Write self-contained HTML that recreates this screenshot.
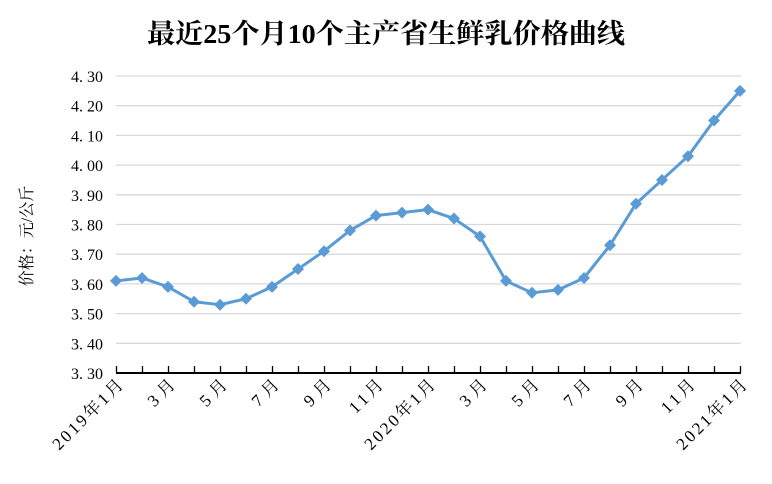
<!DOCTYPE html>
<html><head><meta charset="utf-8"><style>
body{margin:0;background:#fff}
svg text{font-family:"Liberation Serif","Noto Serif CJK SC",serif}
</style></head><body>
<svg width="772" height="479" xmlns="http://www.w3.org/2000/svg">
<rect width="772" height="479" fill="#fff"/>
<text x="386" y="43" text-anchor="middle" font-size="27" font-weight="bold" fill="#000" textLength="478" lengthAdjust="spacingAndGlyphs">最近25个月10个主产省生鲜乳价格曲线</text>
<g id="grid" stroke="#d9d9d9" stroke-width="1.3"></g>
<g id="yl" font-size="16" fill="#000" text-anchor="end"></g>
<line x1="116" y1="373" x2="741" y2="373" stroke="#000" stroke-width="2"/>
<g id="ticks" stroke="#000" stroke-width="1.3"></g>
<g id="xl" font-size="17" fill="#000"></g>
<text transform="translate(32,236) rotate(-90)" text-anchor="middle" font-size="16" fill="#000">价格：元/公斤</text>
<polyline id="ln" fill="none" stroke="#5b9bd5" stroke-width="3" stroke-linejoin="round"/>
<g id="mk" fill="#5b9bd5"></g>
</svg>
<script>
const ns="http://www.w3.org/2000/svg";
function el(t,a,p,txt){const e=document.createElementNS(ns,t);for(const k in a)e.setAttribute(k,a[k]);if(txt)e.textContent=txt;document.getElementById(p).appendChild(e);return e;}
const Y=v=>373-(v-3.3)*297;
for(let i=0;i<=10;i++){const v=3.3+i*0.1,y=Y(v);
 if(i>0)el('line',{x1:116,x2:741,y1:y,y2:y},'grid');
 el('text',{x:103,y:y+6},'yl',v.toFixed(2).replace('.','. '));}
const d=[3.61,3.62,3.59,3.54,3.53,3.55,3.59,3.65,3.71,3.78,3.83,3.84,3.85,3.82,3.76,3.61,3.57,3.58,3.62,3.73,3.87,3.95,4.03,4.15,4.25];
const labs={0:'2019年1月',2:'3月',4:'5月',6:'7月',8:'9月',10:'11月',12:'2020年1月',14:'3月',16:'5月',18:'7月',20:'9月',22:'11月',24:'2021年1月'};
let pts=[];
for(let i=0;i<25;i++){const x=116+i*26,y=Y(d[i]);pts.push(x+','+y);
 el('line',{x1:x+0.5,x2:x+0.5,y1:366,y2:373},'ticks');
 el('path',{d:`M${x},${y-6}L${x+6},${y}L${x},${y+6}L${x-6},${y}Z`},'mk');
 if(labs[i]!==undefined){const t=el('text',{transform:`translate(${x+8},${386}) rotate(-45)`,'text-anchor':'end'},'xl',labs[i]);
  const L=t.getComputedTextLength();t.setAttribute('textLength',L*1.2);t.setAttribute('lengthAdjust','spacing');}}
document.getElementById('ln').setAttribute('points',pts.join(' '));
</script>
</body></html>
